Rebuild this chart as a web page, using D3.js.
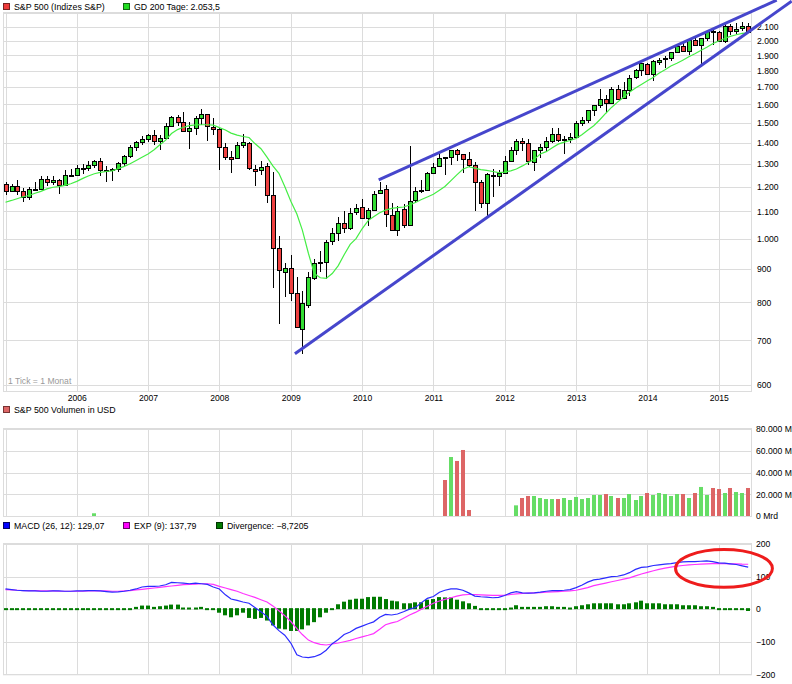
<!DOCTYPE html>
<html><head><meta charset="utf-8">
<script src="https://cdn.jsdelivr.net/npm/d3@7"></script>
<style>
body{margin:0;background:#fff;}
svg{display:block;font-family:"Liberation Sans",Arial,sans-serif;}
</style></head><body>
<svg id="c" width="792" height="684"></svg>
<script>
// ---------- DATA (monthly, Jan 2005 .. Jun 2015) ----------
const openV = [1211.9,1181.3,1203.6,1180.6,1156.9,1191.5,1191.3,1234.2,1220.3,1228.8,1207.0,1249.5,
1248.3,1280.1,1280.7,1294.8,1310.6,1270.1,1270.2,1276.7,1303.8,1335.9,1377.9,1400.6,
1418.0,1437.9,1406.8,1420.8,1482.4,1530.6,1504.7,1455.2,1474.0,1527.3,1545.8,1479.6,
1468.0,1378.6,1330.5,1326.4,1386.0,1399.6,1276.7,1269.4,1287.8,1164.2,968.7,888.6,
903.0,825.4,729.6,793.6,872.7,920.0,920.8,990.2,1019.5,1054.9,1036.2,1098.9,
1116.6,1073.9,1105.4,1171.2,1188.6,1087.3,1031.1,1107.5,1049.7,1143.5,1185.7,1186.6,
1257.6,1289.1,1328.6,1329.5,1365.2,1345.2,1320.6,1292.6,1219.1,1131.2,1251.0,1246.9,
1258.9,1312.5,1365.9,1408.5,1397.9,1309.9,1362.3,1379.3,1406.5,1440.9,1412.2,1416.2,
1426.2,1498.1,1514.7,1569.2,1597.6,1631.7,1609.8,1689.4,1636.0,1682.4,1758.7,1806.6,
1845.9,1782.7,1859.2,1874.0,1884.4,1923.9,1962.3,1929.8,2004.1,1971.4,2018.2,2065.8,
2058.9,1996.7,2105.2,2067.6,2087.4,2108.6];
const highV = [1217.8,1212.2,1229.1,1191.9,1199.6,1219.6,1245.2,1245.9,1243.1,1233.3,1270.6,1275.8,
1294.9,1297.6,1310.9,1318.2,1326.7,1290.7,1280.4,1306.7,1340.3,1389.5,1407.9,1431.8,
1441.6,1461.6,1438.9,1498.0,1535.6,1540.6,1555.9,1503.9,1538.7,1576.1,1545.8,1523.6,
1471.8,1396.0,1359.7,1404.5,1440.2,1404.1,1292.2,1313.2,1303.0,1264.9,1007.5,918.9,
943.9,875.0,833.0,888.7,930.2,956.2,996.7,1039.5,1080.2,1101.4,1113.7,1130.4,
1150.5,1112.4,1180.7,1219.8,1205.1,1131.2,1121.0,1129.2,1383.0,1196.1,1227.1,1262.6,
1302.7,1344.1,1332.3,1364.6,1370.6,1346.0,1356.5,1307.4,1229.3,1256.6,1277.6,1269.4,
1333.5,1378.0,1419.2,1422.4,1415.3,1363.5,1391.7,1426.7,1474.5,1471.0,1434.3,1448.0,
1509.9,1530.9,1570.3,1597.6,1687.2,1654.2,1698.8,1709.7,1729.9,1775.2,1813.6,1849.4,
1850.8,1867.9,1884.0,1897.3,1924.0,1968.2,1991.4,2005.0,2019.3,2018.2,2075.8,2093.6,
2072.4,2119.6,2117.5,2125.9,2134.7,2129.9];
const lowV = [1163.8,1180.9,1163.7,1136.2,1146.2,1188.3,1183.6,1201.1,1205.4,1168.2,1201.1,1246.6,
1245.7,1253.6,1268.4,1280.7,1245.3,1219.3,1224.5,1261.3,1290.9,1327.1,1361.0,1385.9,
1404.0,1389.4,1364.0,1416.4,1476.7,1484.2,1454.3,1370.6,1439.3,1489.6,1406.1,1435.7,
1270.1,1316.8,1257.0,1324.4,1373.1,1272.0,1200.4,1248.5,1133.5,839.8,741.0,815.7,
804.3,734.5,666.8,783.3,866.1,888.9,869.3,978.5,992.0,1020.2,1029.4,1085.9,
1071.6,1044.5,1105.4,1170.7,1040.8,1028.3,1010.9,1039.7,1049.7,1131.9,1173.0,1186.6,
1257.6,1289.1,1249.1,1294.7,1311.8,1258.1,1282.9,1101.5,1114.2,1074.8,1158.7,1202.4,
1258.9,1312.5,1340.0,1357.4,1292.0,1266.7,1325.4,1354.7,1396.6,1403.3,1343.4,1398.1,
1426.2,1485.0,1501.5,1536.0,1581.3,1560.3,1604.6,1627.5,1633.4,1646.5,1746.2,1768.0,
1770.5,1737.9,1834.4,1814.4,1859.8,1916.0,1930.7,1904.8,1964.0,1820.7,2001.0,1972.6,
1988.1,1980.9,2039.7,2048.4,2067.9,2056.3];
const closeV = [1181.3,1203.6,1180.6,1156.9,1191.5,1191.3,1234.2,1220.3,1228.8,1207.0,1249.5,1248.3,
1280.1,1280.7,1294.8,1310.6,1270.1,1270.2,1276.7,1303.8,1335.9,1377.9,1400.6,1418.3,
1438.2,1406.8,1420.9,1482.4,1530.6,1503.4,1455.3,1474.0,1526.8,1549.4,1481.1,1468.4,
1378.6,1330.6,1322.7,1385.6,1400.4,1280.0,1267.4,1282.8,1166.4,968.8,896.2,903.3,
825.9,735.1,797.9,872.8,919.1,919.3,987.5,1020.6,1057.1,1036.2,1095.6,1115.1,
1073.9,1104.5,1169.4,1186.7,1089.4,1030.7,1101.6,1049.3,1141.2,1183.3,1180.6,1257.6,
1286.1,1327.2,1325.8,1363.6,1345.2,1320.6,1292.3,1218.9,1131.4,1253.3,1247.0,1257.6,
1312.4,1365.7,1408.5,1397.9,1310.3,1362.2,1379.3,1406.6,1440.7,1412.2,1416.2,1426.2,
1498.1,1514.7,1569.2,1597.6,1630.7,1606.3,1685.7,1633.0,1681.6,1756.5,1805.8,1848.4,
1782.6,1859.5,1872.3,1884.0,1923.6,1960.2,1930.7,2003.4,1972.3,2018.1,2067.6,2058.9,
1995.0,2104.5,2067.9,2085.5,2107.4,2063.1];
const gd200 = [1136,1143,1150,1158,1163,1172,1180,1190,1197,1200,1205,1212,
1222,1235,1245,1255,1261,1265,1268,1278,1288,1300,1315,1330,
1345,1365,1388,1412,1445,1465,1477,1485,1489,1490,1490,1488,
1475,1463,1447,1437,1430,1425,1395,1370,1330,1290,1257,1200,
1140,1090,1030,950,885,872,870,885,910,945,980,1000,
1035,1065,1080,1095,1105,1112,1115,1117,1125,1135,1147,1157,
1168,1185,1200,1225,1250,1275,1286,1280,1273,1270,1265,1260,
1262,1268,1276,1290,1305,1320,1345,1356,1375,1392,1402,1410,
1420,1440,1462,1485,1515,1550,1583,1613,1640,1670,1695,1716,
1738,1759,1785,1806,1830,1848,1868,1890,1910,1932,1954,1978,
1998,2015,2030,2042,2052,2055];
const volDates = ["2006-04","2011-03","2011-04","2011-05","2011-06","2011-07",
"2012-03","2012-04","2012-05","2012-06","2012-07","2012-08","2012-09","2012-10","2012-11","2012-12",
"2013-01","2013-02","2013-03","2013-04","2013-05","2013-06","2013-07","2013-08","2013-09","2013-10","2013-11","2013-12",
"2014-01","2014-02","2014-03","2014-04","2014-05","2014-06","2014-07","2014-08","2014-09","2014-10","2014-11","2014-12",
"2015-01","2015-02","2015-03","2015-04","2015-05","2015-06"];
const volValues = [2500,33100,54250,50600,60700,5500,
9800,16550,18400,18400,16550,15600,15600,15600,16550,14700,
17500,15600,16550,19300,19300,20200,18400,16550,16550,20200,14700,18400,
21150,19300,21150,20200,18400,20200,20200,16550,21150,26700,19300,25750,
24800,21150,25750,22070,21150,25750];
const macdV = [62,60,58,57,56,56,55,55,56,56,55,55,
56,56,57,57,56,54,52,53,55,58,62,68,
70,70,71,75,82,81,80,78,80,78,76,68,
62,44,31,27,22,18,5,-8,-22,-48,-66,-80,
-104,-140,-147,-149,-146,-139,-126,-106,-93,-78,-70,-59,
-52,-45,-39,-25,-16,-18,-15,-8,0,5,20,33,
39,52,58,62,62,58,50,40,38,37,35,36,
42,50,54,50,49,50,52,55,57,57,58,60,
66,74,83,90,92,96,100,101,105,112,122,128,
130,134,136,138,140,143,145,146,146,147,148,146,
142,141,139,137,133,129.07];
const expV = [60,59,58,57,57,57,56,56,56,55,55,55,
55,55,56,56,56,56,55,55,56,57,59,61,
63,65,67,69,71,73,75,76,77,78,78,76,
70,65,60,55,48,42,36,29,22,10,-5,-20,
-38,-60,-78,-95,-103,-108,-110,-107,-104,-100,-96,-90,
-85,-80,-75,-62,-48,-42,-38,-28,-18,-10,0,9,
18,25,30,35,40,44,45,45,44,43,42,42,
43,45,47,48,49,50,51,52,53,54,55,56,
58,62,66,72,76,80,84,88,92,96,102,108,
113,118,122,126,129,132,134,136,137,138,139,140,
140,140,139,139,138,137.79];
const divV = [1,1,0,-2,-2,-2,-1,-1,0,0,-1,-1,
0,0,2,2,1,-1,-2,-2,-1,1,7,11,
11,7,9,11,14,14,5,5,5,7,0,0,
-14,-22,-28,-22,-14,-30,-33,-30,-38,-53,-63,-65,
-70,-70,-65,-53,-43,-28,-14,0,15,23,29,32,
32,37,38,38,31,26,24,18,18,21,21,29,
31,37,36,36,29,24,18,10,0,-2,-5,-5,
-1,5,12,7,7,7,7,9,9,7,7,5,
9,12,15,18,18,18,18,15,15,18,21,26,
18,18,18,15,15,15,12,12,12,9,9,7,
0,-1,-1,-1,-2,-8.72];
const priceTicks = [600,700,800,900,1000,1100,1200,1300,1400,1500,1600,1700,1800,1900,2000,2100];
const yearTicks = [2006,2007,2008,2009,2010,2011,2012,2013,2014,2015];
const volTicks = [0,20000,40000,60000,80000];
const macdTicks = [-200,-100,0,100,200];
// annotations drawn on the chart (date, value)
const trendLower = [["2009-01-22",668],["2016-01-10",2297]];
const trendUpper = [["2010-03-27",1228],["2015-10-25",2305]];
const ellipseMACD = {center:["2015-01-28",125], left:"2014-05-25", top:183};

// ---------- LAYOUT ----------
const svg = d3.select("#c");
const L = 3, R = 752;
const parse = d3.timeParse("%Y-%m");
const parseD = d3.timeParse("%Y-%m-%d");
const months = d3.timeMonth.range(new Date(2005,0,1), new Date(2015,6,1));
const x = d3.scaleTime().domain([new Date(2005,0,1), new Date(2015,0,1)]).range([5.5,718.7]);
const yP = d3.scaleLog().domain([586.5,2203.5]).range([391,13]);
const yV = d3.scaleLinear().domain([0,80000]).range([516,429]);
const yM = d3.scaleLinear().domain([-200,200]).range([674.3,544]);
const de = d3.formatLocale({decimal:",",thousands:".",grouping:[3],currency:["","€"],minus:"\u2212"});
const fmtInt = de.format(",d");
const GRID = "#dcdcdc";
const yearDates = [2005].concat(yearTicks).map(y=>new Date(y,0,1));
const px = v => Math.round(v)+0.5;

function panel(yScale, ticks){
  const g = svg.append("g");
  g.selectAll("line.h").data(ticks).join("line")
    .attr("x1",L).attr("x2",R).attr("y1",d=>px(yScale(d))).attr("y2",d=>px(yScale(d)))
    .attr("stroke",GRID);
  const r = yScale.range();
  g.selectAll("line.v").data(yearDates).join("line")
    .attr("x1",d=>px(x(d))).attr("x2",d=>px(x(d)))
    .attr("y1",Math.min(...r)).attr("y2",Math.max(...r)).attr("stroke",GRID);
  g.append("rect").attr("x",L+0.5).attr("y",px(Math.min(...r))-1)
    .attr("width",R-L-1).attr("height",Math.abs(r[0]-r[1])+1)
    .attr("fill","none").attr("stroke",GRID);
  return g;
}

// ---------- MAIN PANEL ----------
panel(yP, priceTicks.concat([2200]));
const axP = d3.axisRight(yP).tickValues(priceTicks).tickFormat(fmtInt).tickSize(0).tickPadding(5);
const gP = svg.append("g").attr("transform",`translate(${R},0)`).call(axP);
gP.select(".domain").remove();
gP.selectAll("text").attr("font-size","8.6px").attr("fill","#000").attr("font-family","Liberation Sans, Arial");

const axX = d3.axisBottom(x).tickValues(yearTicks.map(y=>new Date(y,0,1))).tickFormat(d3.timeFormat("%Y")).tickSize(0).tickPadding(4);
const gX = svg.append("g").attr("transform","translate(0,391)").call(axX);
gX.select(".domain").remove();
gX.selectAll("text").attr("font-size","8.6px").attr("fill","#000").attr("font-family","Liberation Sans, Arial");

svg.append("text").attr("x",8).attr("y",384).attr("font-size","8.6px").attr("fill","#999").text("1 Tick = 1 Monat");

// candles
const candles = months.map((d,i)=>({d,o:openV[i],h:highV[i],l:lowV[i],c:closeV[i]}));
const gC = svg.append("g");
gC.selectAll("line").data(candles).join("line")
  .attr("x1",d=>px(x(d.d))).attr("x2",d=>px(x(d.d)))
  .attr("y1",d=>Math.round(yP(d.h))).attr("y2",d=>Math.round(yP(d.l)))
  .attr("stroke","#000");
gC.selectAll("rect").data(candles).join("rect")
  .attr("x",d=>Math.round(x(d.d))-1.5).attr("width",4)
  .attr("y",d=>Math.round(yP(Math.max(d.o,d.c)))+0.5)
  .attr("height",d=>Math.max(1,Math.round(yP(Math.min(d.o,d.c)))-Math.round(yP(Math.max(d.o,d.c)))))
  .attr("fill",d=>d.c>=d.o?"#33dd33":"#ee4040").attr("stroke","#000");

// GD 200
svg.append("path").datum(months.map((d,i)=>[d,gd200[i]]))
  .attr("d",d3.line().x(d=>x(d[0])).y(d=>yP(d[1])))
  .attr("fill","none").attr("stroke","#44ee44").attr("stroke-width",1.2);

// trend lines
[trendLower,trendUpper].forEach(t=>{
  svg.append("line")
    .attr("x1",x(parseD(t[0][0]))).attr("y1",yP(t[0][1]))
    .attr("x2",x(parseD(t[1][0]))).attr("y2",yP(t[1][1]))
    .attr("stroke","#4646cc").attr("stroke-width",3).attr("stroke-linecap","butt");
});

// legend main
function legend(xp, yp, color, label, border){
  svg.append("rect").attr("x",xp+0.5).attr("y",yp+0.5).attr("width",6).attr("height",6)
    .attr("fill",color).attr("stroke",border||"#333");
  svg.append("text").attr("x",xp+11).attr("y",yp+7).attr("font-size","8.8px").attr("fill","#000").text(label);
}
legend(3,3,"#ee3b3b","S&P 500 (Indizes S&P)","#772222");
legend(123,3,"#22dd22","GD 200 Tage: 2.053,5","#116611");

// ---------- VOLUME PANEL ----------
panel(yV, volTicks);
const axV = d3.axisRight(yV).tickValues(volTicks).tickFormat(d=>fmtInt(d)+" Mrd").tickSize(0).tickPadding(4);
const gV = svg.append("g").attr("transform",`translate(${R},0)`).call(axV);
gV.select(".domain").remove();
gV.selectAll("text").attr("font-size","8.6px").attr("fill","#000").attr("font-family","Liberation Sans, Arial");
const vols = volDates.map((s,k)=>{const d=parse(s); const i=months.findIndex(m=>+m===+d); return {d,v:volValues[k],up:closeV[i]>=openV[i]};});
svg.append("g").selectAll("rect").data(vols).join("rect")
  .attr("x",d=>Math.round(x(d.d))-2).attr("width",4)
  .attr("y",d=>yV(d.v)).attr("height",d=>yV(0)-yV(d.v))
  .attr("fill",d=>d.up?"#66dd66":"#dd6666");
legend(3,406,"#dd6666","S&P 500 Volumen in USD","#773333");

// ---------- MACD PANEL ----------
panel(yM, macdTicks);
const axM = d3.axisRight(yM).tickValues(macdTicks).tickFormat(de.format("d")).tickSize(0).tickPadding(4);
const gM = svg.append("g").attr("transform",`translate(${R},0)`).call(axM);
gM.select(".domain").remove();
gM.selectAll("text").attr("font-size","8.6px").attr("fill","#000").attr("font-family","Liberation Sans, Arial");

svg.append("g").selectAll("rect").data(months.map((d,i)=>({d,v:divV[i]}))).join("rect")
  .attr("x",d=>Math.round(x(d.d))-2).attr("width",4)
  .attr("y",d=>Math.min(yM(d.v),yM(0)-1))
  .attr("height",d=>Math.max(2,Math.abs(yM(d.v)-yM(0))))
  .attr("fill","#007a00");
svg.append("path").datum(months.map((d,i)=>[d,expV[i]]))
  .attr("d",d3.line().x(d=>x(d[0])).y(d=>yM(d[1])))
  .attr("fill","none").attr("stroke","#ff33ff").attr("stroke-width",1.2);
svg.append("path").datum(months.map((d,i)=>[d,macdV[i]]))
  .attr("d",d3.line().x(d=>x(d[0])).y(d=>yM(d[1])))
  .attr("fill","none").attr("stroke","#2b2bff").attr("stroke-width",1.2);

const ec = parseD(ellipseMACD.center[0]);
svg.append("ellipse")
  .attr("cx",x(ec)).attr("cy",yM(ellipseMACD.center[1]))
  .attr("rx",x(ec)-x(parseD(ellipseMACD.left)))
  .attr("ry",yM(ellipseMACD.center[1])-yM(ellipseMACD.top))
  .attr("fill","none").attr("stroke","#ee1c1c").attr("stroke-width",3);

legend(3,522,"#0000ff","MACD (26, 12): 129,07","#000066");
legend(123,522,"#ff00ff","EXP (9): 137,79","#660066");
legend(216,522,"#007a00","Divergence: \u22128,7205","#003300");
</script>
</body></html>
